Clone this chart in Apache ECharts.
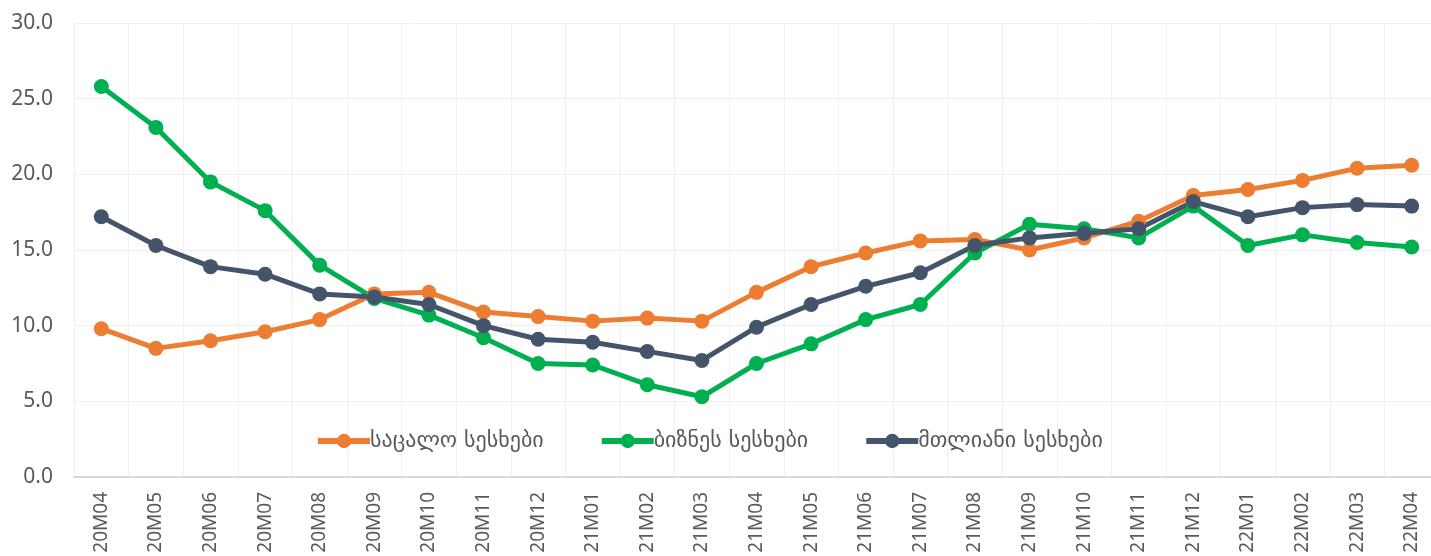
<!DOCTYPE html>
<html>
<head>
<meta charset="utf-8">
<script src="https://cdn.jsdelivr.net/npm/echarts@6/dist/echarts.min.js"></script>
<style>
  html, body { margin: 0; padding: 0; background: #fff; }
  #chart { width: 1431px; height: 556px; }
</style>
</head>
<body>
<div id="chart"></div>
<script>
const categories = [
  '20M04', '20M05', '20M06', '20M07', '20M08', '20M09', '20M10', '20M11', '20M12',
  '21M01', '21M02', '21M03', '21M04', '21M05', '21M06', '21M07', '21M08', '21M09',
  '21M10', '21M11', '21M12', '22M01', '22M02', '22M03', '22M04'
]

const retailLoans = [
  9.8, 8.5, 9.0, 9.6, 10.4, 12.1, 12.2, 10.9, 10.6,
  10.3, 10.5, 10.3, 12.2, 13.9, 14.8, 15.6, 15.7, 15.0,
  15.8, 16.9, 18.6, 19.0, 19.6, 20.4, 20.6
]

const businessLoans = [
  25.8, 23.1, 19.5, 17.6, 14.0, 11.8, 10.7, 9.2, 7.5,
  7.4, 6.1, 5.3, 7.5, 8.8, 10.4, 11.4, 14.8, 16.7,
  16.4, 15.8, 17.9, 15.3, 16.0, 15.5, 15.2
]

const totalLoans = [
  17.2, 15.3, 13.9, 13.4, 12.1, 11.9, 11.4, 10.0, 9.1,
  8.9, 8.3, 7.7, 9.9, 11.4, 12.6, 13.5, 15.3, 15.8,
  16.1, 16.4, 18.2, 17.2, 17.8, 18.0, 17.9
]

const seriesNames = ['საცალო სესხები', 'ბიზნეს სესხები', 'მთლიანი სესხები']
const seriesColors = ['#ED7D31', '#00B050', '#44546A']

const chart = echarts.init(document.getElementById('chart'))

function lineSeries(name, data, color) {
  return {
    name,
    type: 'line',
    data,
    symbol: 'circle',
    symbolSize: 15,
    lineStyle: { width: 5, color },
    itemStyle: { color },
    emphasis: { disabled: true }
  }
}

chart.setOption({
  animation: false,
  backgroundColor: '#fff',
  textStyle: { fontFamily: "'Noto Sans', 'DejaVu Sans', sans-serif" },
  grid: {
    left: 74,
    top: 23,
    width: 1365,
    bottom: 79,
    outerBoundsMode: 'none',
    containLabel: false
  },
  legend: {
    top: 425,
    left: 310,
    itemWidth: 52,
    itemHeight: 18,
    itemGap: 55,
    lineStyle: { width: 6 },
    textStyle: {
      color: '#595959',
      fontSize: 22,
      fontFamily: "'DejaVu Sans', 'Noto Sans', sans-serif",
      padding: [0, 0, 0, -5]
    },
    data: seriesNames
  },
  xAxis: {
    type: 'category',
    data: categories,
    boundaryGap: true,
    axisLine: { lineStyle: { color: '#d9d9d9', width: 2 } },
    axisTick: { show: false },
    axisLabel: {
      rotate: 90,
      interval: 0,
      margin: 15,
      color: '#595959',
      fontSize: 19
    },
    splitLine: { show: true, interval: 0, lineStyle: { color: '#f0f0f0', width: 1 } }
  },
  yAxis: {
    type: 'value',
    min: 0,
    max: 30,
    interval: 5,
    axisLine: { show: false },
    axisTick: { show: false },
    axisLabel: {
      margin: 21,
      color: '#595959',
      fontSize: 21,
      formatter: v => v.toFixed(1)
    },
    splitLine: { lineStyle: { color: '#f0f0f0', width: 1 } }
  },
  series: [
    lineSeries(seriesNames[0], retailLoans, seriesColors[0]),
    lineSeries(seriesNames[1], businessLoans, seriesColors[1]),
    lineSeries(seriesNames[2], totalLoans, seriesColors[2])
  ]
})

window.addEventListener('resize', () => chart.resize())
</script>
</body>
</html>
